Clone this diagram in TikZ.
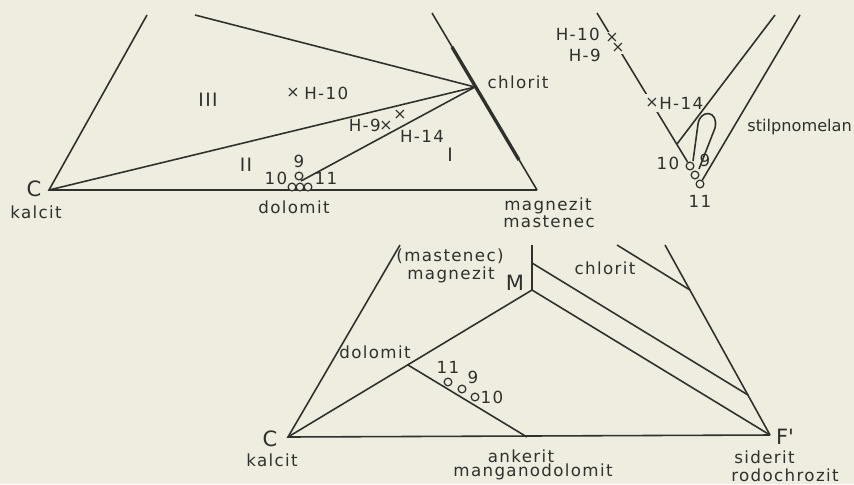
\documentclass[tikz,border=0pt]{standalone}
\usepackage{fontspec}
\setmainfont[LetterSpace=8]{DejaVu Sans}
\newfontfamily\narrowfont{DejaVu Sans}
\definecolor{paper}{RGB}{238,237,224}
\definecolor{ink}{RGB}{48,48,46}

\begin{document}
\begin{tikzpicture}[
  x=0.02cm, y=-0.02cm,
  edge/.style={draw=ink, line width=0.9pt},
  heavy/.style={draw=ink, line width=1.9pt},
  lbl/.style={text=ink, font=\fontsize{9.5}{11}\selectfont, inner sep=0pt},
  apex/.style={text=ink, font=\fontsize{12}{14}\selectfont, inner sep=0pt},
  roman/.style={text=ink, font=\fontsize{10.5}{12}\selectfont, inner sep=0pt},
  pt/.style={circle, draw=ink, line width=0.7pt, fill=paper, minimum size=4.4pt, inner sep=0pt},
  cross/.style={text=ink, font=\fontsize{9}{10}\selectfont, inner sep=0.6pt},
  gapcross/.style={cross, fill=paper, inner sep=1pt},
]
  \fill[paper] (0,0) rectangle (854,484);
  \useasboundingbox (0,0) rectangle (854,484);

  % upper left triangle
  \coordinate (cA) at (49,190);
  \coordinate (cAtop) at (147,15);
  \coordinate (chTail) at (195,15);
  \coordinate (chl) at (475,87);
  \coordinate (mgz) at (537,190);
  \coordinate (thTop) at (432,13);
  \coordinate (thA) at (452,47);
  \coordinate (thB) at (519,160);
  \coordinate (dolA) at (301,181);

  \draw[edge] (cAtop) -- (cA) -- (mgz);
  \draw[edge] (cA) -- (chl);
  \draw[edge] (chTail) -- (chl);
  \draw[edge] (dolA) -- (chl);
  \draw[edge] (thTop) -- (mgz);
  \draw[heavy] (thA) -- (thB);

  \node[pt] (pA9) at (299,176) {};
  \node[pt] (pA10) at (292,187) {};
  \node[pt] (pA9b) at (300,187) {};
  \node[pt] (pA11) at (308,187) {};

  \node[apex] (lcA) at (34,189) {C};
  \node[lbl] (kalcitA) at (36,212) {kalcit};
  \node[lbl] (dolomitA) at (294,207) {dolomit};
  \node[lbl] (chloritA) at (518,82) {chlorit};
  \node[lbl, anchor=west] (magnezitA) at (504,206) {magnezit};
  \node[lbl, anchor=west] (mastenecA) at (503,222) {mastenec};
  \node[roman] (r3) at (208,100) {III};
  \node[roman] (r2) at (246,165) {II};
  \node[roman] (r1) at (450,155) {I};
  \node[lbl] (n10a) at (276,178) {10};
  \node[lbl] (n9a) at (299,161) {9};
  \node[lbl] (n11a) at (326,178) {11};

  \node[cross] (xH10) at (293,93) {×};
  \node[lbl, anchor=west] (tH10) at (304,93) {H-10};
  \node[cross] (xH9) at (386,126) {×};
  \node[lbl, anchor=east] (tH9) at (381,125) {H-9};
  \node[cross] (xH14) at (400,115) {×};
  \node[lbl] (tH14) at (422,136) {H-14};

  % stilpnomelan
  \coordinate (sA) at (597,13);
  \coordinate (sB) at (775,15);
  \coordinate (sBend) at (677,144);
  \coordinate (sC) at (800,15);
  \node[pt] (q10) at (690,166) {};
  \node[pt] (q9) at (695,175) {};
  \node[pt] (q11) at (700,184) {};

  \draw[edge] (sA) -- (q10);
  \draw[edge] (sB) -- (sBend);
  \draw[edge] (sC) -- (q11);
  \coordinate (lpA) at (693,161);
  \coordinate (lpL) at (698,124);
  \coordinate (lpR) at (715,128);
  \coordinate (lpB) at (699,169);
  \draw[edge] (lpA) -- (lpL) .. controls (700,109) and (719,110) .. (lpR) -- (lpB);

  \node[gapcross] (yH10) at (612,38) {×};
  \node[gapcross] (yH9) at (618,48) {×};
  \node[gapcross, inner sep=2.4pt] (yH14) at (652,103) {×};
  \node[lbl, anchor=east] (uH10) at (600,34) {H-10};
  \node[lbl, anchor=east] (uH9) at (601,55) {H-9};
  \node[lbl, anchor=west] (uH14) at (659,103) {H-14};
  \node[lbl, anchor=west, font=\narrowfont\fontsize{9.2}{11}\selectfont] (stilp) at (747,127) {stilpnomelan};
  \node[lbl] (n10b) at (668,163) {10};
  \node[lbl] (n9b) at (705,160) {9};
  \node[lbl] (n11b) at (700,201) {11};

  % lower diagram
  \coordinate (cB) at (288,437);
  \coordinate (cBtop) at (400,245);
  \coordinate (mB) at (532,290);
  \coordinate (mBtop) at (532,245);
  \coordinate (mBmid) at (532,263);
  \coordinate (dolB) at (408,365);
  \coordinate (ankB) at (527,437);
  \coordinate (fB) at (770,435);
  \coordinate (stTop) at (665,245);
  \coordinate (chTop) at (617,245);
  \coordinate (chEnd) at (690,290);
  \coordinate (upEnd) at (748,395);

  \draw[edge] (cBtop) -- (cB) -- (fB);
  \draw[edge] (cB) -- (mB);
  \draw[edge] (mBtop) -- (mB) -- (fB);
  \draw[edge] (mBmid) -- (upEnd);
  \draw[edge] (stTop) -- (fB);
  \draw[edge] (chTop) -- (chEnd);
  \draw[edge] (dolB) -- (ankB);

  \node[pt] (p11) at (448,382) {};
  \node[pt] (p9) at (462,389) {};
  \node[pt] (p10) at (475,397) {};

  \node[apex] (lcB) at (270,439) {C};
  \node[apex] (lM) at (515,283) {M};
  \node[apex] (lF) at (785,437) {F\textquotesingle};
  \node[lbl] (kalcitB) at (272,460) {kalcit};
  \node[lbl] (mastenecB) at (450,256) {(mastenec)};
  \node[lbl] (magnezitB) at (451,275) {magnezit};
  \node[lbl] (dolomitB) at (375,352) {dolomit};
  \node[lbl] (chloritB) at (605,268) {chlorit};
  \node[lbl] (ankeritB) at (521,456) {ankerit};
  \node[lbl] (mangB) at (533,472) {manganodolomit};
  \node[lbl, anchor=west] (sideritB) at (734,457) {siderit};
  \node[lbl, anchor=west] (rodoB) at (731,475) {rodochrozit};
  \node[lbl] (n11c) at (448,367) {11};
  \node[lbl] (n9c) at (473,377) {9};
  \node[lbl] (n10c) at (492,397) {10};
\end{tikzpicture}
\end{document}
